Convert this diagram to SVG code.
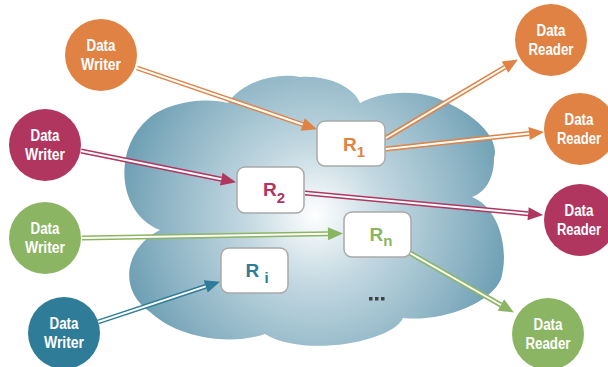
<svg xmlns="http://www.w3.org/2000/svg" width="608" height="367" viewBox="0 0 608 367">
  <defs>
    <radialGradient id="cloudFill" gradientUnits="userSpaceOnUse" cx="315" cy="215" r="225">
      <stop offset="0" stop-color="#ffffff"/>
      <stop offset="0.3" stop-color="#c4d9e2"/>
      <stop offset="0.7" stop-color="#8ab2c3"/>
      <stop offset="1" stop-color="#5a92a8"/>
    </radialGradient>
    <marker id="headOrange" markerUnits="userSpaceOnUse" markerWidth="20" markerHeight="20" refX="0" refY="0" orient="auto" overflow="visible">
      <path d="M0,-6.5 L15,0 L0,6.5 Z" fill="#e08243"/>
    </marker>
    <marker id="headMagenta" markerUnits="userSpaceOnUse" markerWidth="20" markerHeight="20" refX="0" refY="0" orient="auto" overflow="visible">
      <path d="M0,-6.5 L15,0 L0,6.5 Z" fill="#b0365f"/>
    </marker>
    <marker id="headGreen" markerUnits="userSpaceOnUse" markerWidth="20" markerHeight="20" refX="0" refY="0" orient="auto" overflow="visible">
      <path d="M0,-6.5 L15,0 L0,6.5 Z" fill="#8bb563"/>
    </marker>
    <marker id="headTeal" markerUnits="userSpaceOnUse" markerWidth="20" markerHeight="20" refX="0" refY="0" orient="auto" overflow="visible">
      <path d="M0,-6.5 L15,0 L0,6.5 Z" fill="#2e7c98"/>
    </marker>
  </defs>
  <style>
    .orange { fill: #e08243; }
    .magenta { fill: #b0365f; }
    .green { fill: #8bb563; }
    .teal { fill: #2e7c98; }
    .ctext { fill: #ffffff; font-family: "Liberation Sans", Arial, sans-serif; font-weight: bold; font-size: 16px; text-anchor: middle; }
    .box { fill: #ffffff; stroke: #a9a9a9; stroke-width: 1.5; }
    .rlabel { font-family: "Liberation Sans", Arial, sans-serif; font-weight: bold; font-size: 19px; text-anchor: middle; }
    .sub { font-size: 15px; }
    .outer { stroke-width: 5; fill: none; }
    .inner { stroke: #ffffff; stroke-width: 2; fill: none; }
    .so { stroke: #e08243; }
    .sm { stroke: #b0365f; }
    .sg { stroke: #8bb563; }
    .st { stroke: #2e7c98; }
  </style>

  <!-- shared data space -->
  <path id="cloud" fill="url(#cloudFill)" d="M160,230 C118,214 112,150 148,119 C168,101 208,97 228,103 C242,81 278,72 300,77 C330,75 354,88 360,103 C382,91 420,88 448,103 C478,117 500,140 494,158 C494,178 486,192 472,197 C498,207 510,248 501,279 C490,305 440,322 403,318 C392,342 304,358 265,334 C230,346 178,338 150,312 C118,290 124,248 160,230 Z"/>

  <!-- connectors -->
  <g id="connectors">
    <g>
      <path class="outer so" d="M137,68 L302.7,124.5" marker-end="url(#headOrange)"/>
      <path class="inner" d="M137,68 L302.7,124.5"/>
    </g>
    <g>
      <path class="outer so" d="M386,138 L505,67.2" marker-end="url(#headOrange)"/>
      <path class="inner" d="M386,138 L505,67.2"/>
    </g>
    <g>
      <path class="outer so" d="M386,149 L529.1,133.5" marker-end="url(#headOrange)"/>
      <path class="inner" d="M386,149 L529.1,133.5"/>
    </g>
    <g>
      <path class="outer sm" d="M81,151 L221.3,179.2" marker-end="url(#headMagenta)"/>
      <path class="inner" d="M81,151 L221.3,179.2"/>
    </g>
    <g>
      <path class="outer sm" d="M305,193 L528.1,213.7" marker-end="url(#headMagenta)"/>
      <path class="inner" d="M305,193 L528.1,213.7"/>
    </g>
    <g>
      <path class="outer sg" d="M82,238 L328,233.7" marker-end="url(#headGreen)"/>
      <path class="inner" d="M82,238 L328,233.7"/>
    </g>
    <g>
      <path class="outer sg" d="M410,253 L500.9,305" marker-end="url(#headGreen)"/>
      <path class="inner" d="M410,253 L500.9,305"/>
    </g>
    <g>
      <path class="outer st" d="M98,322 L205.7,286.4" marker-end="url(#headTeal)"/>
      <path class="inner" d="M98,322 L205.7,286.4"/>
    </g>
  </g>

  <!-- writers -->
  <g id="writer-orange">
    <circle class="orange" cx="101" cy="55" r="36"/>
    <text class="ctext" x="101" y="51" textLength="29" lengthAdjust="spacingAndGlyphs">Data</text>
    <text class="ctext" x="101" y="70" textLength="40" lengthAdjust="spacingAndGlyphs">Writer</text>
  </g>
  <g id="writer-magenta">
    <circle class="magenta" cx="45" cy="145" r="36"/>
    <text class="ctext" x="45" y="141" textLength="29" lengthAdjust="spacingAndGlyphs">Data</text>
    <text class="ctext" x="45" y="160" textLength="40" lengthAdjust="spacingAndGlyphs">Writer</text>
  </g>
  <g id="writer-green">
    <circle class="green" cx="45" cy="238" r="36"/>
    <text class="ctext" x="45" y="234" textLength="29" lengthAdjust="spacingAndGlyphs">Data</text>
    <text class="ctext" x="45" y="253" textLength="40" lengthAdjust="spacingAndGlyphs">Writer</text>
  </g>
  <g id="writer-teal">
    <circle class="teal" cx="64" cy="333" r="36"/>
    <text class="ctext" x="64" y="329" textLength="29" lengthAdjust="spacingAndGlyphs">Data</text>
    <text class="ctext" x="64" y="348" textLength="40" lengthAdjust="spacingAndGlyphs">Writer</text>
  </g>

  <!-- readers -->
  <g id="reader-orange-1">
    <circle class="orange" cx="551" cy="40" r="36"/>
    <text class="ctext" x="551" y="36" textLength="29" lengthAdjust="spacingAndGlyphs">Data</text>
    <text class="ctext" x="551" y="55" textLength="45" lengthAdjust="spacingAndGlyphs">Reader</text>
  </g>
  <g id="reader-orange-2">
    <circle class="orange" cx="580" cy="129" r="36"/>
    <text class="ctext" x="579" y="125" textLength="29" lengthAdjust="spacingAndGlyphs">Data</text>
    <text class="ctext" x="579" y="144" textLength="44" lengthAdjust="spacingAndGlyphs">Reader</text>
  </g>
  <g id="reader-magenta">
    <circle class="magenta" cx="580" cy="220" r="36"/>
    <text class="ctext" x="579" y="216" textLength="29" lengthAdjust="spacingAndGlyphs">Data</text>
    <text class="ctext" x="579" y="235" textLength="44" lengthAdjust="spacingAndGlyphs">Reader</text>
  </g>
  <g id="reader-green">
    <circle class="green" cx="548" cy="334" r="36"/>
    <text class="ctext" x="548" y="330" textLength="29" lengthAdjust="spacingAndGlyphs">Data</text>
    <text class="ctext" x="548" y="349" textLength="45" lengthAdjust="spacingAndGlyphs">Reader</text>
  </g>

  <!-- routers inside the data space -->
  <g id="router-1">
    <rect class="box" x="317" y="121" width="68" height="45" rx="8"/>
    <text class="rlabel orange" x="354" y="151">R<tspan class="sub" dy="6">1</tspan></text>
  </g>
  <g id="router-2">
    <rect class="box" x="237" y="167" width="67" height="46" rx="8"/>
    <text class="rlabel magenta" x="274" y="196">R<tspan class="sub" dy="7">2</tspan></text>
  </g>
  <g id="router-n">
    <rect class="box" x="344" y="212" width="67" height="45" rx="8"/>
    <text class="rlabel green" x="381" y="241">R<tspan class="sub" dy="5">n</tspan></text>
  </g>
  <g id="router-i">
    <rect class="box" x="221" y="248" width="67" height="45" rx="8"/>
    <text class="rlabel teal" x="257" y="277">R <tspan class="sub" dy="6">i</tspan></text>
  </g>

  <!-- more routers -->
  <g id="ellipsis" fill="#404040">
    <rect x="369" y="297" width="3.5" height="3.5"/>
    <rect x="375" y="297" width="3.5" height="3.5"/>
    <rect x="381" y="297" width="3.5" height="3.5"/>
  </g>
</svg>
